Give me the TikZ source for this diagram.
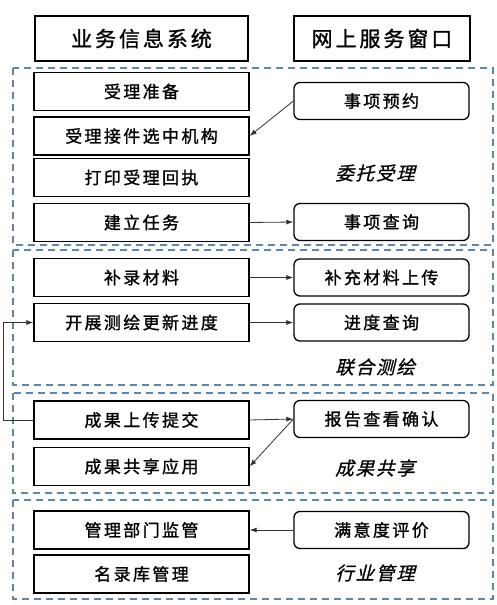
\documentclass[tikz,border=0pt]{standalone}
\usepackage{fontspec}
\newfontfamily\cjk[LetterSpace=14,FakeBold=1.2]{Noto Sans CJK SC}
\newfontfamily\cjkit[LetterSpace=10,FakeSlant=0.25,FakeBold=0.8]{Noto Sans CJK SC}
\usetikzlibrary{arrows.meta}
\definecolor{dashblue}{HTML}{5A86B0}
\definecolor{linegray}{HTML}{333333}
\begin{document}
\begin{tikzpicture}[x=1pt,y=-1pt,
 lbox/.style={draw,line width=1.3pt,minimum width=215pt,minimum height=38pt,inner sep=0pt,font=\cjk\fontsize{17}{18}\selectfont},
 rbox/.style={draw,rounded corners=6pt,line width=1.3pt,minimum width=175pt,minimum height=37pt,inner sep=0pt,font=\cjk\fontsize{17}{18}\selectfont},
 hbox/.style={draw,line width=2pt,minimum height=45pt,inner sep=0pt,font=\cjk\fontsize{21}{22}\selectfont},
 grp/.style={draw=dashblue,dash pattern=on 7pt off 5pt,line width=1.5pt},
 lab/.style={font=\cjkit\fontsize{18.5}{19}\selectfont},
 arr/.style={draw=linegray,-{Latex[length=7pt,width=5pt]},line width=0.8pt}
]
\useasboundingbox (0,0) rectangle (497,605);
% headers
\node[hbox,minimum width=213pt] (h1) at (141.5,38.5) {业务信息系统};
\node[hbox,minimum width=176pt] (h2) at (382,38.5) {网上服务窗口};
% groups
\draw[grp] (13,68) rectangle (493,245);
\draw[grp] (13,250) rectangle (493,385);
\draw[grp] (13,393) rectangle (493,493);
\draw[grp] (13,500) rectangle (493,599);
% group 1
\node[lbox] (a1) at (141.5,91.5) {受理准备};
\node[lbox] (a2) at (141.5,136) {受理接件选中机构};
\node[lbox] (a3) at (141.5,177.5) {打印受理回执};
\node[lbox] (a4) at (141.5,222.5) {建立任务};
\node[rbox] (r1) at (381.5,101) {事项预约};
\node[rbox] (r2) at (381.5,222) {事项查询};
\node[lab] (l1) at (375,173) {委托受理};
% group 2
\node[lbox] (b1) at (141.5,277.5) {补录材料};
\node[lbox] (b2) at (141.5,322.5) {开展测绘更新进度};
\node[rbox] (s1) at (381.5,277.5) {补充材料上传};
\node[rbox] (s2) at (381.5,322.5) {进度查询};
\node[lab] (l2) at (375,367) {联合测绘};
% group 3
\node[lbox] (c1) at (141.5,420) {成果上传提交};
\node[lbox] (c2) at (141.5,466.5) {成果共享应用};
\node[rbox] (t1) at (381.5,419) {报告查看确认};
\node[lab] (l3) at (375,468) {成果共享};
% group 4
\node[lbox] (d1) at (141.5,530) {管理部门监管};
\node[lbox] (d2) at (141.5,574) {名录库管理};
\node[rbox] (u1) at (381.5,530) {满意度评价};
\node[lab] (l4) at (375,573) {行业管理};
% arrows
\draw[arr] (r1.west) -- (a2.east);
\draw[arr] (a4.east) -- (r2.west);
\draw[arr] (b1.east) -- (s1.west);
\draw[arr] (b2.east) -- (s2.west);
\draw[arr] (c1.east) -- (t1.west);
\draw[arr] (t1.west) -- (c2.east);
\draw[arr] (c1.west) -- ++(-30,0) |- (b2.west);
\draw[arr] (u1.west) -- (d1.east);
\end{tikzpicture}
\end{document}
